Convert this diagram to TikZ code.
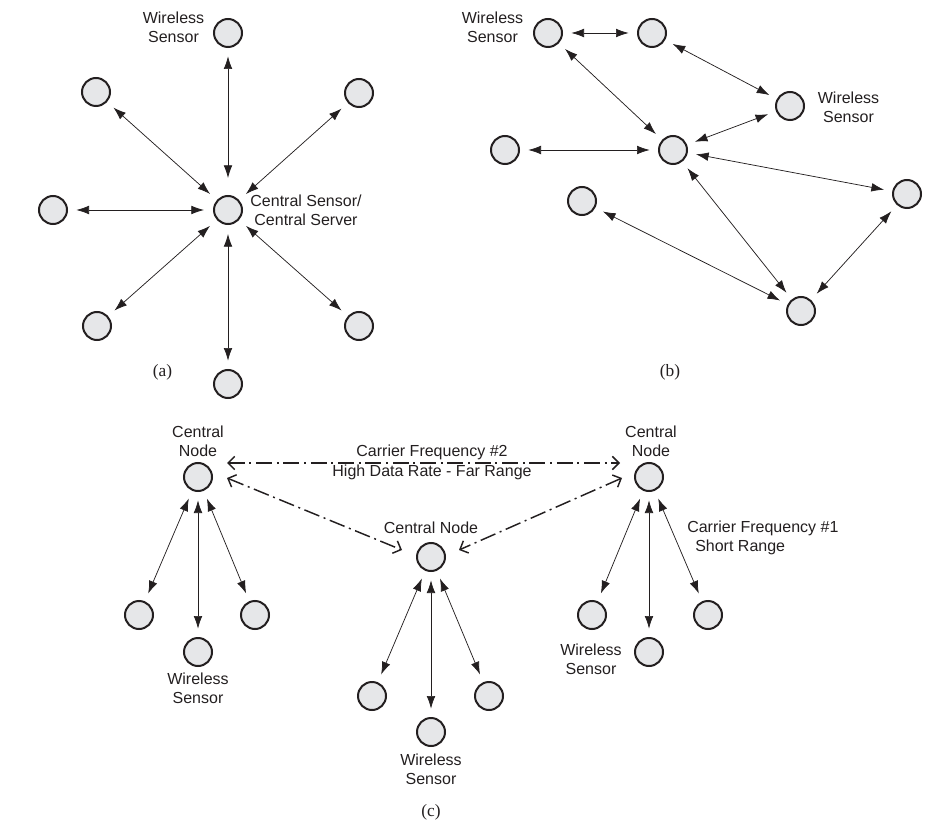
\documentclass[tikz,border=0pt]{standalone}
\usepackage{fontspec}
\setmainfont{Liberation Sans}
\newfontfamily\capfont{Liberation Serif}
\usetikzlibrary{arrows.meta,calc}
\definecolor{nodefill}{RGB}{230,231,233}
\definecolor{ink}{RGB}{35,31,32}
\begin{document}
\begin{tikzpicture}[x=0.75pt,y=-0.75pt,
  sensor/.style={circle,draw=ink,fill=nodefill,line width=1.5pt,minimum size=21pt,inner sep=0pt,outer sep=7pt},
  hub/.style={sensor,outer sep=7.5pt},
  link/.style={{Latex[length=9.5pt,width=6.5pt]}-{Latex[length=9.5pt,width=6.5pt]},draw=ink,line width=0.55pt},
  farlink/.style={{Straight Barb[length=5pt,width=10pt]}-{Straight Barb[length=5pt,width=10pt]},draw=ink,line width=1.1pt,
    dash pattern=on 12pt off 3.5pt on 1.5pt off 3.5pt},
  lbl/.style={font=\fontsize{12pt}{14.5pt}\selectfont,align=center,text=ink,inner sep=0pt},
  subcap/.style={font=\capfont\fontsize{13pt}{15pt}\selectfont,text=ink,inner sep=0pt}]
\useasboundingbox (0,0) rectangle (952,830);

% ---------- (a) star topology ----------
\node[hub] (a0) at (228,210) {};
\node[sensor] (a1) at (228,33) {};
\node[sensor] (a2) at (359,93) {};
\node[sensor] (a3) at (96,92) {};
\node[sensor] (a4) at (53,210) {};
\node[sensor] (a5) at (97,326) {};
\node[sensor] (a6) at (359,326) {};
\node[sensor] (a7) at (228,384) {};
\draw[link,shorten <=6pt] (a0) -- (a1);
\foreach \n in {a2,a3,a4,a5,a6,a7} \draw[link] (a0) -- (\n);
\node[lbl] (aw) at (173.5,27) {Wireless\\Sensor};
\node[lbl] (ac) at (306,210) {Central Sensor/\\Central Server};
\node[subcap] (acap) at (162.5,372.5) {(a)};

% ---------- (b) mesh topology ----------
\node[sensor] (b0) at (673,150) {};
\node[sensor] (b1) at (548,33) {};
\node[sensor] (b2) at (652,33) {};
\node[sensor] (b3) at (790,106) {};
\node[sensor] (b4) at (505,150) {};
\node[sensor] (b5) at (582,201) {};
\node[sensor] (b6) at (907,194) {};
\node[sensor] (b7) at (801,311) {};
\draw[link] (b1) -- (b2);
\draw[link] (b1) -- (b0);
\draw[link] (b2) -- (b3);
\draw[link] (b3) -- (b0);
\draw[link] (b4) -- (b0);
\draw[link] (b0) -- (b6);
\draw[link] (b0) -- (b7);
\draw[link] (b5) -- (b7);
\draw[link] (b6) -- (b7);
\node[lbl] (bw1) at (492.5,27) {Wireless\\Sensor};
\node[lbl] (bw2) at (848.5,107) {Wireless\\Sensor};
\node[subcap] (bcap) at (670,372.5) {(b)};

% ---------- (c) clustered topology ----------
\node[sensor] (cL) at (198,477) {};
\node[sensor] (cR) at (649,477) {};
\node[sensor] (cM) at (431,557) {};
\node[sensor] (l1) at (139,615) {};
\node[sensor] (l2) at (198,652) {};
\node[sensor] (l3) at (255,615) {};
\node[sensor] (m1) at (372,696) {};
\node[sensor] (m2) at (431,732) {};
\node[sensor] (m3) at (489,696) {};
\node[sensor] (r1) at (592,615) {};
\node[sensor] (r2) at (649,652) {};
\node[sensor] (r3) at (708,615) {};
\foreach \n in {l1,l2,l3} \draw[link] (cL) -- (\n);
\foreach \n in {m1,m2,m3} \draw[link] (cM) -- (\n);
\foreach \n in {r1,r2,r3} \draw[link] (cR) -- (\n);

% long-range links between the central nodes
\draw[farlink] ($(cL)+(29,-14)$) -- ($(cR)+(-29,-14)$);
\draw[farlink] ($(cL)+(29,1)$) -- ($(cM)+(-29,-7)$);
\draw[farlink] ($(cR)+(-27,1)$) -- ($(cM)+(28,-7)$);

\node[lbl] (lcn) at (198,441.5) {Central\\Node};
\node[lbl] (rcn) at (651,441) {Central\\Node};
\node[lbl] (mcn) at (431,528) {Central Node};
\node[lbl] (cf2) at (432,462.5) {Carrier Frequency \#2\\High Data Rate - Far Range};
\node[lbl,align=left,anchor=west] (cf1) at (687,538) {Carrier Frequency \#1\\\hspace*{6pt}Short Range};
\node[lbl] (lws) at (198,688) {Wireless\\Sensor};
\node[lbl] (mws) at (431,769) {Wireless\\Sensor};
\node[lbl] (rws) at (591,659.5) {Wireless\\Sensor};
\node[subcap] (ccap) at (431,812) {(c)};
\end{tikzpicture}
\end{document}
